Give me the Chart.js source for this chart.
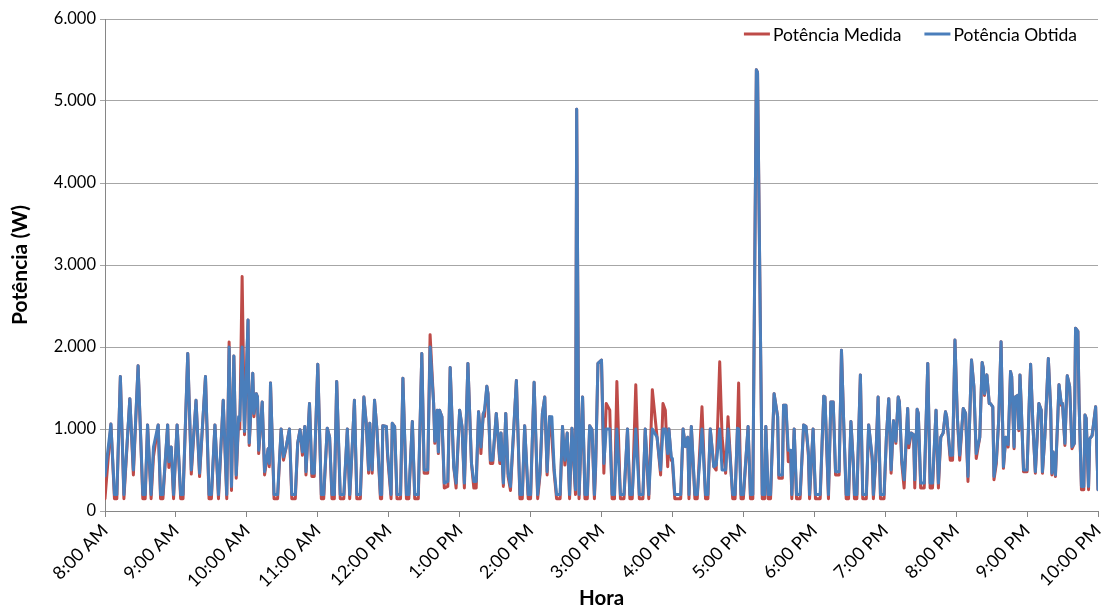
<!DOCTYPE html>
<html>
<head>
<meta charset="utf-8">
<script src="https://cdn.jsdelivr.net/npm/chart.js@4.4.1/dist/chart.umd.min.js"></script>
<style>
  html, body { margin: 0; padding: 0; background: #ffffff; }
  #wrap { width: 1106px; height: 611px; position: relative; }
</style>
</head>
<body>
<div id="wrap"><canvas id="c" width="1106" height="611"></canvas></div>
<script>
// Hour tick labels (one every 60 minutes starting 8:00 AM)
const hourLabels = ['8:00 AM','9:00 AM','10:00 AM','11:00 AM','12:00 PM','1:00 PM','2:00 PM','3:00 PM','4:00 PM','5:00 PM','6:00 PM','7:00 PM','8:00 PM','9:00 PM','10:00 PM'];

// Time of each reading, minutes after 8:00 AM
const minutes = [0,5,8,10,13,16,21,24,28,32,
34,36,39,41,45,47,49,53,54,56,
58,61,64,66,70,73,77,80,85,88,
90,93,96,100,103,105,107,109,111,113,
114,116,118,121,122,125,126,128,129,130,
133,135,138,139,140,143,146,149,151,153,
156,158,161,163,165,167,169,170,173,175,
177,180,183,185,188,190,192,194,196,199,
202,205,207,209,211,213,216,219,221,223,
224,226,228,230,233,234,235,238,239,242,
243,245,247,250,252,255,257,260,262,265,
268,270,273,275,278,279,281,282,283,285,
287,290,292,295,297,300,302,304,307,310,
312,314,316,317,318,320,321,323,324,326,
328,331,334,335,337,339,341,343,348,351,
353,355,358,360,363,366,368,370,372,374,
376,378,380,382,385,387,389,391,393,395,
398,399,401,404,406,408,410,412,414,415,
417,420,422,424,427,429,431,433,436,439,
442,444,446,449,452,455,457,460,463,467,
470,472,474,476,477,479,480,482,487,489,
491,493,494,496,499,501,505,508,510,512,
515,517,520,522,525,527,531,533,535,536,
538,540,544,546,548,551,552,556,558,559,
561,563,566,569,570,573,574,576,578,580,
581,583,585,588,591,593,595,596,599,601,
605,608,609,612,614,616,618,621,623,625,
627,629,631,633,634,636,639,641,644,646,
649,650,652,654,656,659,661,663,665,667,
669,671,672,674,676,679,680,682,684,685,
687,688,690,693,696,698,700,703,705,707,
709,711,712,715,717,719,721,723,726,728,
730,731,733,735,737,740,742,743,744,746,
748,749,751,752,754,756,758,760,762,764,
766,767,769,770,772,773,774,775,777,780,
782,783,785,787,790,792,793,795,798,800,
801,802,804,806,807,809,810,812,814,816,
818,820,821,823,824,826,828,829,830,832,
833,835,838,840];

// Potência Medida (W)
const medida = [150,1060,150,150,1640,150,1370,440,1770,150,
150,1050,150,660,1050,150,150,1050,530,780,
150,1050,150,150,1920,450,1350,420,1640,150,
150,1050,150,1350,150,2060,250,1890,400,1090,
1000,2860,930,2330,800,1680,1150,1430,1390,700,
1330,440,760,540,1560,150,150,1000,620,760,
1000,150,150,825,990,680,1030,440,1310,420,
420,1790,150,150,1010,900,150,150,1580,150,
150,1000,150,740,1350,150,150,1390,1070,460,
1070,460,1350,1000,150,150,1040,1030,680,150,
1070,1030,150,150,1620,150,150,1090,150,150,
1920,460,460,2150,1310,825,1230,700,1230,1150,
280,300,1750,540,280,1230,1030,280,1800,580,
280,280,1210,1030,700,1190,1150,1520,1430,580,
580,1190,580,950,300,1190,420,250,1590,150,
150,1040,150,150,1570,150,440,1190,1390,440,
1150,900,460,150,150,1030,560,950,150,1010,
200,4900,150,1390,150,150,1040,990,150,500,
1800,1840,460,1310,1230,150,150,1580,150,150,
1000,150,150,1540,150,150,1000,150,1480,900,
440,1310,1230,540,1000,620,600,150,150,1000,
785,900,150,1030,150,150,1270,150,150,1000,
540,500,1820,900,460,1150,150,150,1010,1560,
150,150,1030,150,150,5380,5350,150,150,1030,
150,150,1430,1150,400,400,1290,1290,600,700,
150,1000,150,150,1050,1030,680,150,1000,150,
150,1400,1390,150,1330,1330,440,440,1960,1030,
150,150,1090,580,150,150,1660,150,150,1050,
620,150,620,1390,150,150,900,1370,460,1100,
825,1390,1330,580,280,1250,770,950,930,280,
1240,1190,280,280,1800,280,280,1230,280,900,
950,1210,1150,620,620,2085,1150,620,1250,1190,
360,900,1840,1520,640,900,1810,1740,1410,1660,
1310,1310,1270,380,580,1110,2065,520,900,780,
1700,1640,760,1390,1410,980,1660,1310,480,480,
1390,1790,1030,460,1310,1230,460,900,1860,1230,
440,720,420,1150,1540,1290,1310,800,1650,1520,
760,825,2230,2190,1310,260,260,1170,1130,260,
880,920,1270,260];

// Potência Obtida (W)
const obtida = [430,1060,200,200,1640,200,1370,500,1770,200,
200,1050,200,780,1050,200,200,1050,600,780,
200,1050,200,200,1920,500,1350,460,1640,200,
200,1050,200,1350,200,2000,300,1890,440,1150,
1100,2000,970,2330,830,1680,1190,1430,1390,740,
1330,480,760,580,1560,200,200,1000,660,760,
1000,200,200,825,990,720,1030,480,1310,460,
460,1790,200,200,1010,900,200,200,1580,200,
200,1000,200,740,1350,200,200,1390,1070,500,
1070,500,1350,1000,200,200,1040,1030,720,200,
1070,1030,200,200,1620,200,200,1090,200,200,
1920,500,500,2000,1310,850,1230,720,1230,1150,
340,360,1750,540,340,1230,1030,340,1800,580,
360,360,1210,1030,780,1190,1230,1520,1430,620,
620,1190,620,950,340,1190,460,300,1590,200,
200,1040,200,200,1570,200,480,1190,1390,480,
1150,1150,500,200,200,1030,620,950,200,1010,
260,4900,200,1390,200,200,1040,990,200,540,
1800,1840,580,1000,1000,200,200,1000,200,200,
1000,200,200,1000,200,200,1000,200,1000,900,
500,1000,1000,700,1000,660,640,200,200,1000,
785,900,200,1030,200,200,1000,200,200,1000,
540,560,1000,500,500,1000,200,200,1010,1000,
200,200,1030,200,200,5380,5350,200,200,1030,
200,200,1430,1150,440,440,1290,1290,740,740,
200,1000,200,200,1050,1030,720,200,1000,200,
200,1400,1390,200,1330,1330,480,480,1960,1030,
200,200,1090,580,200,200,1660,200,200,1050,
660,200,620,1390,200,200,900,1370,500,1100,
850,1390,1330,620,380,1250,825,950,930,380,
1240,1190,340,340,1800,340,340,1230,340,900,
950,1210,1150,680,680,2085,1150,680,1250,1190,
420,900,1840,1520,700,900,1810,1740,1430,1660,
1310,1310,1270,420,620,1110,2065,540,900,810,
1700,1640,780,1390,1410,1000,1660,1310,500,500,
1390,1790,1030,480,1310,1230,480,900,1860,1230,
460,720,440,1150,1540,1310,1310,825,1650,1520,
785,825,2230,2190,1310,300,300,1170,1130,300,
880,920,1270,260];

// Y-axis tick values
const yTicks = [0, 1000, 2000, 3000, 4000, 5000, 6000];

function fmtThousands(v) {
  if (v === 0) return '0';
  const s = String(Math.round(v));
  return s.replace(/\B(?=(\d{3})+(?!\d))/g, '.');
}

const FONT = 'Lato, "Liberation Sans", sans-serif';

// Legend drawn in the top-right corner of the plot, Excel style
const cornerLegend = {
  id: 'cornerLegend',
  afterDraw(chart) {
    const ctx = chart.ctx;
    const area = chart.chartArea;
    const fontSize = 17.5;
    const lineLen = 26, lineGap = 3, itemGap = 23;
    ctx.save();
    ctx.font = fontSize + 'px ' + FONT;
    ctx.textBaseline = 'middle';
    ctx.textAlign = 'left';
    const items = chart.data.datasets.map(d => ({ text: d.label, color: d.borderColor, w: ctx.measureText(d.label).width }));
    let total = 0;
    items.forEach((it, i) => { total += lineLen + lineGap + it.w + (i < items.length - 1 ? itemGap : 0); });
    let x = area.right - 21 - total;
    const y = area.top + 15;
    items.forEach(it => {
      ctx.strokeStyle = it.color;
      ctx.lineWidth = 3;
      ctx.beginPath();
      ctx.moveTo(x, y);
      ctx.lineTo(x + lineLen, y);
      ctx.stroke();
      ctx.fillStyle = '#000';
      ctx.fillText(it.text, x + lineLen + lineGap, y + 1);
      x += lineLen + lineGap + it.w + itemGap;
    });
    ctx.restore();
  }
};

const chart = new Chart(document.getElementById('c'), {
  type: 'line',
  data: {
    datasets: [
      {
        label: 'Potência Medida',
        data: minutes.map((m, i) => ({ x: m, y: medida[i] })),
        borderColor: '#BE4B48',
        backgroundColor: '#BE4B48',
        borderWidth: 3,
        pointRadius: 0,
        tension: 0,
        borderJoinStyle: 'round',
        borderCapStyle: 'round',
        order: 1
      },
      {
        label: 'Potência Obtida',
        data: minutes.map((m, i) => ({ x: m, y: obtida[i] })),
        borderColor: '#4A7EBB',
        backgroundColor: '#4A7EBB',
        borderWidth: 3,
        pointRadius: 0,
        tension: 0,
        borderJoinStyle: 'round',
        borderCapStyle: 'round',
        order: 0
      }
    ]
  },
  options: {
    responsive: false,
    devicePixelRatio: 1,
    animation: false,
    layout: { padding: { left: 0, right: 8, top: 19, bottom: 0 } },
    plugins: {
      legend: { display: false },
      tooltip: { enabled: false }
    },
    scales: {
      x: {
        type: 'linear',
        min: 0,
        max: 840,
        afterFit: (s) => { s.height = 100; s.paddingRight = 0; s.paddingLeft = 0; },
        afterBuildTicks: (s) => { s.ticks = hourLabels.map((_, i) => ({ value: i * 60 })); },
        ticks: {
          autoSkip: false,
          maxRotation: 45,
          minRotation: 45,
          padding: 3,
          color: '#000',
          font: { family: FONT, size: 18 },
          callback: (v) => hourLabels[Math.round(v / 60)]
        },
        grid: {
          drawOnChartArea: false,
          drawTicks: true,
          tickLength: 6,
          color: '#868686'
        },
        border: { color: '#868686', width: 1 },
        title: {
          display: true,
          text: 'Hora',
          color: '#000',
          font: { family: FONT, size: 20.5, weight: 'bold' },
          padding: { top: 0, bottom: 0 }
        }
      },
      y: {
        min: 0,
        max: 6000,
        afterFit: (s) => { s.width = 105; },
        afterBuildTicks: (s) => { s.ticks = yTicks.map(v => ({ value: v })); },
        ticks: {
          padding: 4,
          color: '#000',
          font: { family: FONT, size: 16.5 },
          callback: (v) => fmtThousands(v)
        },
        grid: {
          color: '#A6A6A6',
          drawTicks: true,
          tickLength: 5,
          lineWidth: 1
        },
        border: { color: '#868686', width: 1 },
        title: {
          display: true,
          text: 'Potência (W)',
          color: '#000',
          font: { family: FONT, size: 21, weight: 'bold' },
          padding: { top: 8, bottom: 0 }
        }
      }
    }
  },
  plugins: [cornerLegend]
});
</script>
</body>
</html>
